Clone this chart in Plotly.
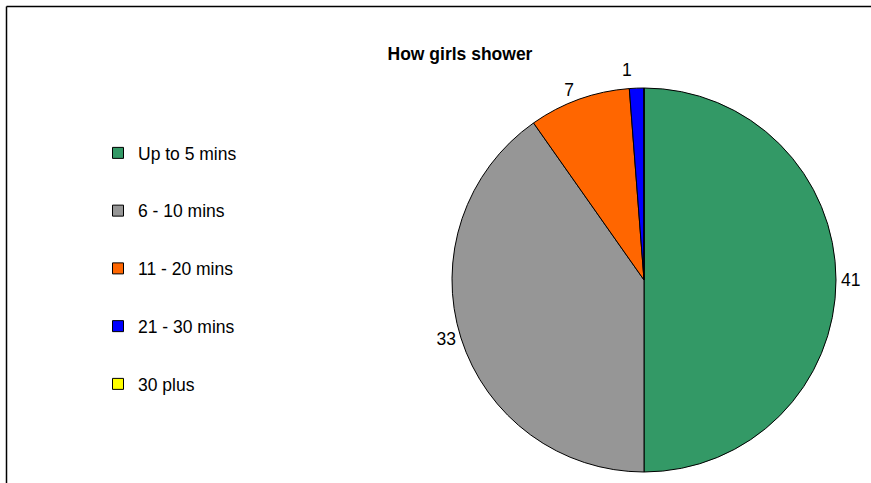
import plotly.graph_objects as go

labels = ["Up to 5 mins", "6 - 10 mins", "11 - 20 mins", "21 - 30 mins", "30 plus"]
values = [41, 33, 7, 1, 0]
colors = ["#339966", "#969696", "#FF6600", "#0000FF", "#FFFF00"]
title = "How girls shower"

W, H = 871, 483
FONT = "Arial, Liberation Sans, sans-serif"
FS = 17.5

fig = go.Figure()

fig.add_trace(go.Pie(
    labels=labels,
    values=values,
    text=[str(v) if v else "" for v in values],
    textinfo="text",
    textposition="outside",
    sort=False,
    direction="clockwise",
    rotation=0,
    automargin=False,
    marker=dict(colors=colors, line=dict(color="black", width=1)),
    outsidetextfont=dict(family=FONT, size=FS, color="black"),
    showlegend=False,
    hoverinfo="label+value",
    domain=dict(x=[417 / W, 1.0], y=[11 / H, 395 / H]),
))

for lab, col in zip(labels, colors):
    fig.add_trace(go.Scatter(
        x=[None], y=[None], mode="markers", name=lab, legendgroup=lab,
        marker=dict(symbol="square", size=11, color=col, line=dict(color="black", width=1)),
        showlegend=True, hoverinfo="skip",
    ))

fx, fy = 6.5 / W, 1 - 6.5 / H
fig.update_layout(
    width=W, height=H, autosize=False,
    margin=dict(l=0, r=0, t=0, b=0, pad=0, autoexpand=False),
    paper_bgcolor="white", plot_bgcolor="white",
    font=dict(family=FONT, size=FS, color="black"),
    title=dict(text="<b>" + title + "</b>", x=460 / W, y=1 - 53.5 / H,
               xanchor="center", yanchor="middle",
               font=dict(family=FONT, size=FS, color="black")),
    xaxis=dict(visible=False), yaxis=dict(visible=False),
    legend=dict(x=98 / W, y=1 - 135 / H, xanchor="left", yanchor="top",
                tracegroupgap=32, font=dict(family=FONT, size=FS, color="black"),
                bgcolor="rgba(0,0,0,0)", traceorder="grouped"),
    shapes=[
        dict(type="line", xref="paper", yref="paper", x0=fx, x1=1, y0=fy, y1=fy,
             line=dict(color="black", width=1.5), layer="above"),
        dict(type="line", xref="paper", yref="paper", x0=fx, x1=fx, y0=0, y1=fy,
             line=dict(color="black", width=1.5), layer="above"),
    ],
)

fig.write_html(
    "out.html",
    config={"displayModeBar": False, "responsive": False},
    post_script=(
        "document.body.style.margin='0px';"
        "document.querySelectorAll('path.textline').forEach(function(e){e.style.display='none';});"
    ),
)
